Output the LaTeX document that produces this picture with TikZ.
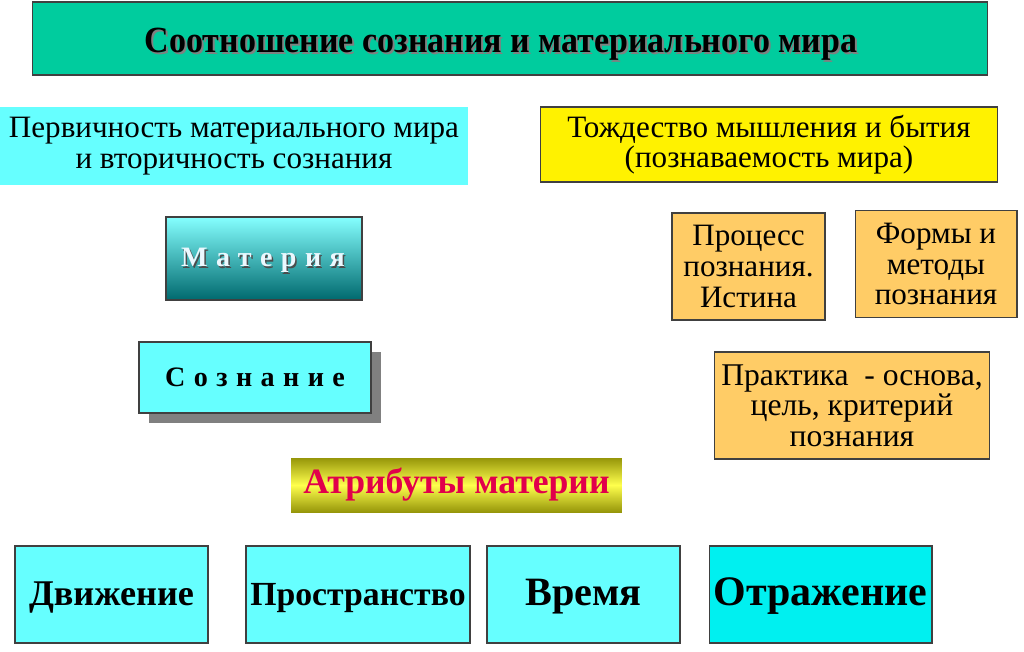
\documentclass[tikz,border=0pt]{standalone}
\usepackage{fontspec}
\setmainfont{Liberation Serif}
\newfontfamily\spacedfont[LetterSpace=30]{Liberation Serif}
\newfontfamily\narrowfont[FakeStretch=0.92]{Liberation Serif}
\usepackage{tikz}

\definecolor{titleteal}{RGB}{0,204,158}
\definecolor{lightcyan}{RGB}{102,255,255}
\definecolor{brightcyan}{RGB}{0,240,240}
\definecolor{paleorange}{RGB}{255,204,102}
\definecolor{darkteal}{RGB}{0,105,110}
\definecolor{olive}{RGB}{150,150,10}
\definecolor{crimson}{RGB}{225,0,75}

\begin{document}
\begin{tikzpicture}[x=0.02cm,y=-0.02cm,
		box/.style={draw=black!75,line width=0.6pt,align=center,inner sep=0pt},
		cyanbox/.style={box,fill=lightcyan},
		plaintext/.style={font=\fontsize{17.7}{17.4}\selectfont},
		orangebox/.style={box,fill=paleorange,plaintext},
		headtext/.style={font=\narrowfont\bfseries\fontsize{21}{21}\selectfont,text height=18pt,text depth=2.6pt},
		bigword/.style={font=\bfseries\fontsize{#1}{#1}\selectfont,text height=16pt,text depth=3pt}]
	\useasboundingbox (0,0) rectangle (1024,652);
	% header
	\node[box,fill=titleteal,minimum width=19.12cm,minimum height=1.46cm] (title) at (510,38.5) {};
	\node[headtext,text=black!50] at (503,40.5) {Соотношение сознания и материального мира};
	\node[headtext] (titletext) at (501,38.5) {Соотношение сознания и материального мира};
	% two theses
	\node[fill=lightcyan,align=center,minimum width=9.36cm,minimum height=1.56cm,plaintext] (primacy) at (234,146)
		{Первичность материального мира\\и вторичность сознания};
	\node[box,fill=yellow,minimum width=9.16cm,minimum height=1.5cm,plaintext] (identity) at (769,144.5)
		{Тождество мышления и бытия\\(познаваемость мира)};
	% left column
	\node[box,minimum width=3.92cm,minimum height=1.66cm,top color=lightcyan!80,bottom color=darkteal] (matter) at (264,258.5) {};
	\node[text=black!70] at (264.5,262) {\spacedfont\bfseries\fontsize{16}{16}\selectfont Материя};
	\node[text=white!92!cyan] (mattertext) at (263,260.5) {\spacedfont\bfseries\fontsize{16}{16}\selectfont Материя};
	\fill[black!50] (149,352) rectangle (381,423);
	\node[cyanbox,minimum width=4.64cm,minimum height=1.42cm,font=\spacedfont\bfseries\fontsize{16}{16}\selectfont] (mind) at (255,377.5) {Сознание};
	\node[box,draw=none,minimum width=6.62cm,minimum height=1.08cm,top color=olive,bottom color=olive,middle color=yellow!70!white,
		text=crimson,font=\bfseries\fontsize{20.3}{20.3}\selectfont] (attributes) at (456.5,485) {Атрибуты материи};
	% right column
	\node[orangebox,minimum width=3.06cm,minimum height=2.14cm] (process) at (748.5,266.5) {Процесс\\познания.\\Истина};
	\node[orangebox,minimum width=3.24cm,minimum height=2.14cm] (forms) at (936,264) {Формы и\\методы\\познания};
	\node[orangebox,minimum width=5.5cm,minimum height=2.14cm,font=\fontsize{18}{17.4}\selectfont] (practice) at (852,405.5) {Практика \ - основа,\\цель, критерий\\познания};
	% attributes row
	\node[cyanbox,minimum width=3.86cm,minimum height=1.94cm,bigword=20.6] (motion) at (111.5,594.5) {Движение};
	\node[cyanbox,minimum width=4.48cm,minimum height=1.94cm,bigword=19.2] (space) at (358,594.5) {Пространство};
	\node[cyanbox,minimum width=3.86cm,minimum height=1.94cm,bigword=22.9] (time) at (583.5,594.5) {Время};
	\node[box,fill=brightcyan,minimum width=4.46cm,minimum height=1.94cm,bigword=23.9] (reflection) at (820.5,594.5) {Отражение};
\end{tikzpicture}
\end{document}
